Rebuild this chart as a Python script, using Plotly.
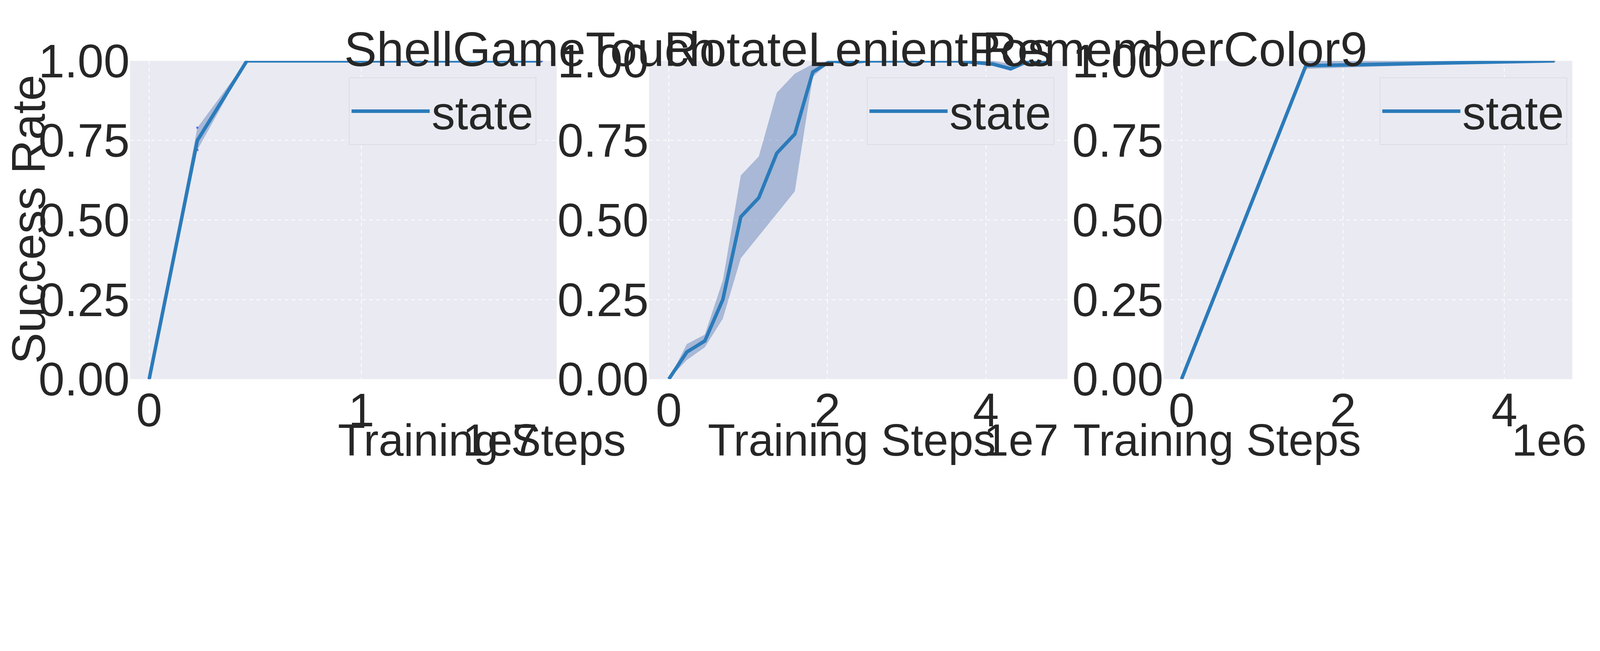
import plotly.graph_objects as go

titles = ["ShellGameTouch", "RotateLenientPos", "RememberColor9"]
# Panel 1
x1 = [0, 2.27e6, 4.6e6, 1.85e7]
y1 = [0.0, 0.75, 1.0, 1.0]
lo1 = [0.0, 0.72, 1.0, 1.0]
hi1 = [0.0, 0.79, 1.0, 1.0]
# Panel 2
x2 = [k * 2.27e6 for k in range(22)]
y2 = [0.0, 0.085, 0.12, 0.25, 0.51, 0.57, 0.71, 0.77, 0.965, 1.0, 0.995, 1.0, 1.0, 1.0, 1.0, 1.0, 1.0, 0.995, 0.99, 0.975, 1.0, 0.995]
lo2 = [0.0, 0.06, 0.10, 0.19, 0.38, 0.45, 0.52, 0.59, 0.95, 1.0, 0.995, 1.0, 1.0, 1.0, 1.0, 1.0, 1.0, 0.99, 0.985, 0.97, 1.0, 0.995]
hi2 = [0.0, 0.11, 0.14, 0.31, 0.64, 0.70, 0.90, 0.96, 0.99, 1.0, 1.0, 1.0, 1.0, 1.0, 1.0, 1.0, 1.0, 1.0, 1.0, 0.99, 1.0, 1.0]
# Panel 3
x3 = [0, 1.54e6, 4.62e6]
y3 = [0.0, 0.985, 1.0]
lo3 = [0.0, 0.975, 1.0]
hi3 = [0.0, 1.0, 1.0]

xranges = [[-0.09e7, 1.92e7], [-0.25e7, 5.03e7], [-0.22e6, 4.84e6]]
xtickvals = [[0, 1e7], [0, 2e7, 4e7], [0, 2e6, 4e6]]
xticktext = [["0", "1"], ["0", "2", "4"], ["0", "2", "4"]]
exps = ["1e7", "1e7", "1e6"]
ytickvals = [0, 0.25, 0.5, 0.75, 1.0]
yticktext = ["0.00", "0.25", "0.50", "0.75", "1.00"]

RW, RH = 5708, 1666          # reference pixels
W, H = 4077, 1190            # CSS pixels (device scale ~1.4)
xdoms = [[455 / RW, 1984 / RW], [2315 / RW, 3815 / RW], [4160 / RW, 5624 / RW]]
ydom = [1 - 1347 / RH, 1 - 207 / RH]
legright = [0.3348, 0.660, 0.982]
expright = [527 * 3.64 / RW, 1040 * 3.64 / RW, 1560 * 3.64 / RW]

LINE = "#2b7bba"
BAND = "rgba(76,114,176,0.42)"
FONT = "Liberation Sans, Arial, sans-serif"
TXT = "#262626"

fig = go.Figure()
data = [(x1, y1, lo1, hi1), (x2, y2, lo2, hi2), (x3, y3, lo3, hi3)]
for i, (x, y, lo, hi) in enumerate(data):
    sfx = "" if i == 0 else str(i + 1)
    leg = "legend" if i == 0 else f"legend{i + 1}"
    fig.add_trace(go.Scatter(x=x + x[::-1], y=hi + lo[::-1], fill="toself", fillcolor=BAND,
                             line=dict(width=0), hoverinfo="skip", showlegend=False,
                             xaxis="x" + sfx, yaxis="y" + sfx))
    fig.add_trace(go.Scatter(x=x, y=y, mode="lines", name="state", line=dict(color=LINE, width=9),
                             xaxis="x" + sfx, yaxis="y" + sfx, legend=leg))
    ax = dict(domain=xdoms[i], range=xranges[i], tickvals=xtickvals[i], ticktext=xticktext[i],
              showgrid=True, gridcolor="white", griddash="dash", gridwidth=1.5, zeroline=False,
              showline=False, ticks="", automargin=False,
              tickfont=dict(size=120, color=TXT, family=FONT), anchor="y" + sfx)
    ay = dict(domain=ydom, range=[0, 1.0], tickvals=ytickvals, ticktext=yticktext,
              showgrid=True, gridcolor="white", griddash="dash", gridwidth=1.5, zeroline=False,
              showline=False, ticks="", automargin=False,
              tickfont=dict(size=120, color=TXT, family=FONT), anchor="x" + sfx)
    fig.update_layout(**{"xaxis" + sfx: ax, "yaxis" + sfx: ay})
    fig.update_layout(**{leg: dict(x=legright[i], y=1 - 266 / RH, xanchor="right", yanchor="top",
                                   bgcolor="#eaeaf2", bordercolor="#dcdce6", borderwidth=2,
                                   font=dict(size=120, color=TXT, family=FONT),
                                   itemwidth=200, entrywidth=520)})
    fig.add_annotation(text=titles[i], x=(xdoms[i][0] + xdoms[i][1]) / 2, y=1 - 164 / RH,
                       xref="paper", yref="paper", yanchor="middle", showarrow=False,
                       font=dict(size=125, color=TXT, family=FONT))
    fig.add_annotation(text="Training Steps", x=(xdoms[i][0] + xdoms[i][1]) / 2 - 0.004, y=1 - 1565 / RH,
                       xref="paper", yref="paper", yanchor="middle", showarrow=False,
                       font=dict(size=115, color=TXT, family=FONT))
    fig.add_annotation(text=exps[i], x=expright[i], y=1 - 1565 / RH, xref="paper", yref="paper",
                       xanchor="right", yanchor="middle", showarrow=False,
                       font=dict(size=115, color=TXT, family=FONT))

fig.add_annotation(text="Success Rate", x=91 / RW, y=1 - 775 / RH, xref="paper", yref="paper",
                   textangle=-90, xanchor="center", yanchor="middle", showarrow=False,
                   font=dict(size=120, color=TXT, family=FONT))

fig.update_layout(width=W, height=H, margin=dict(l=0, r=0, t=0, b=0),
                  paper_bgcolor="white", plot_bgcolor="#eaeaf2")
fig.write_html("out.html")
